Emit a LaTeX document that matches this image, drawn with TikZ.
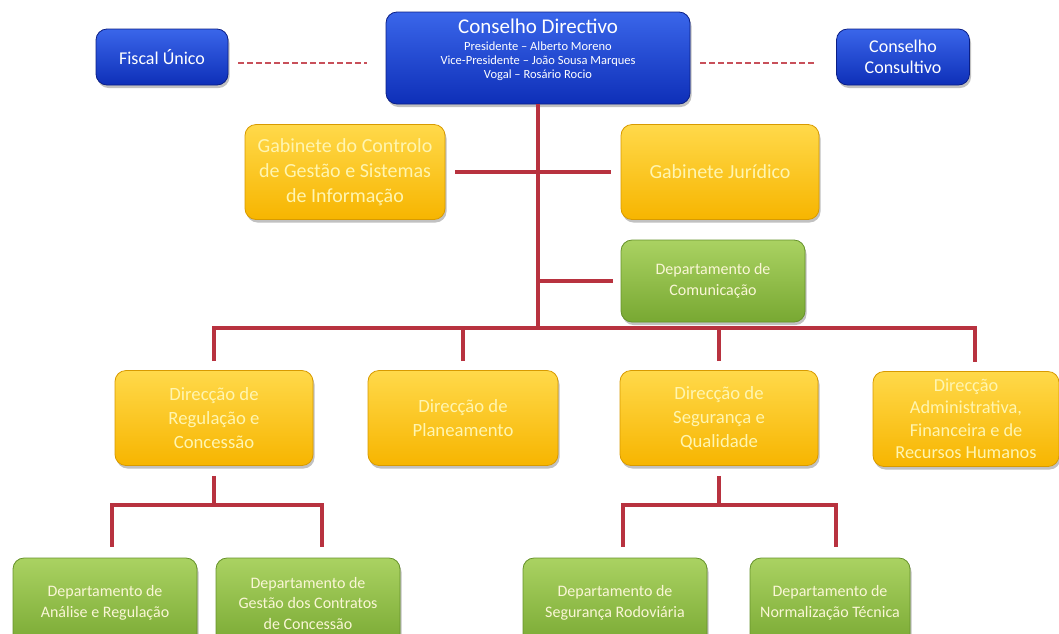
\documentclass[tikz,border=0pt]{standalone}
\usepackage{fontspec}
\setmainfont{Carlito}
\usetikzlibrary{shadows,calc}

\definecolor{bluetop}{HTML}{3A66EA}
\definecolor{bluebot}{HTML}{0E2FB8}
\definecolor{blueedge}{HTML}{0A1E86}
\definecolor{yeltop}{HTML}{FFD94A}
\definecolor{yelbot}{HTML}{F7B500}
\definecolor{yeledge}{HTML}{D89A00}
\definecolor{yeltext}{HTML}{FFF5B0}
\definecolor{grntop}{HTML}{AAD262}
\definecolor{grnbot}{HTML}{78A832}
\definecolor{grnedge}{HTML}{66922A}
\definecolor{grntext}{HTML}{FAF6D6}
\definecolor{linkred}{HTML}{B8323F}
\definecolor{dashred}{HTML}{C8505A}

\tikzset{
  unitbox/.style={rounded corners=11pt, inner sep=2pt, align=center,
    line width=0.8pt,
    drop shadow={shadow xshift=1.5pt, shadow yshift=-3pt, opacity=0.35, fill=black!70}},
  bluebox/.style={unitbox, draw=blueedge, top color=bluetop, bottom color=bluebot, text=white},
  yelbox/.style={unitbox, draw=yeledge, top color=yeltop, bottom color=yelbot, text=yeltext,
    font=\fontsize{18.7}{24}\selectfont},
  grnbox/.style={unitbox, draw=grnedge, top color=grntop, bottom color=grnbot, text=grntext,
    font=\fontsize{16}{20.5}\selectfont},
  conn/.style={draw=linkred, line width=4pt},
  dashlink/.style={draw=dashred, line width=2pt, dash pattern=on 6pt off 3pt},
}

\begin{document}
\begin{tikzpicture}[x=1pt, y=-1pt]
\useasboundingbox (0,0) rectangle (1059,633);
\clip (0,0) rectangle (1059,633);

% board and its two advisory bodies; the empty last line lifts the text block
\node[bluebox, minimum width=304pt, minimum height=92pt, font=\fontsize{12.5}{14}\selectfont] (cd) at (538,58)
  {{\fontsize{21}{22}\selectfont Conselho Directivo}\\[2.5pt]
   Presidente -- Alberto Moreno\\
   Vice-Presidente -- João Sousa Marques\\
   Vogal -- Rosário Rocio\\[5pt]{}};
\node[bluebox, minimum width=132pt, minimum height=56pt, font=\fontsize{18}{21}\selectfont] (fu) at (162,57) {Fiscal Único};
\node[bluebox, minimum width=133pt, minimum height=56pt, font=\fontsize{18}{21}\selectfont] (cc) at (903,57) {Conselho\\Consultivo};

% offices attached to the board
\node[yelbox, minimum width=200pt, minimum height=95pt, font=\fontsize{20}{25}\selectfont] (gc) at (345,172)
  {Gabinete do Controlo\\de Gestão e Sistemas\\de Informação};
\node[yelbox, minimum width=198pt, minimum height=95pt, font=\fontsize{20}{25}\selectfont] (gj) at (720,172) {Gabinete Jurídico};
\node[grnbox, minimum width=184pt, minimum height=82pt] (dc) at (713,281) {Departamento de\\Comunicação};

% directorates
\node[yelbox, minimum width=198pt, minimum height=95pt] (r1) at (214,418) {Direcção de\\Regulação e\\Concessão};
\node[yelbox, minimum width=190pt, minimum height=95pt] (r2) at (463,418) {Direcção de\\Planeamento};
\node[yelbox, minimum width=198pt, minimum height=95pt] (r3) at (719,418) {Direcção de\\Segurança e\\Qualidade};
\node[yelbox, minimum width=186pt, minimum height=95pt, font=\fontsize{18.3}{22.5}\selectfont] (r4) at (966,419)
  {Direcção\\Administrativa,\\Financeira e de\\Recursos Humanos};

% departments
\node[grnbox, minimum width=184pt, minimum height=90pt] (b1) at (105,603) {Departamento de\\Análise e Regulação};
\node[grnbox, minimum width=184pt, minimum height=90pt] (b2) at (308,603) {Departamento de\\Gestão dos Contratos\\de Concessão};
\node[grnbox, minimum width=184pt, minimum height=90pt] (b3) at (615,603) {Departamento de\\Segurança Rodoviária};
\node[grnbox, minimum width=160pt, minimum height=90pt] (b4) at (830,603) {Departamento de\\Normalização Técnica};

% junction points of the tree
\coordinate (bus) at (538,328);
\coordinate (s1) at (214,505);
\coordinate (s2) at (719,505);

% dashed advisory links
\draw[dashlink] ([xshift=10pt,yshift=-6pt]fu.east) -- ([xshift=-19pt,yshift=-6pt]fu.east -| cd.west);
\draw[dashlink] ([xshift=10pt,yshift=-6pt]cc.west -| cd.east) -- ([xshift=-19pt,yshift=-6pt]cc.west);

% hierarchy
\draw[conn] (cd.south) -- (bus);
\draw[conn] ([xshift=10pt]gc.east) -- ([xshift=-10pt]gj.west);
\draw[conn] (cd.south |- dc.west) -- ([xshift=-8pt]dc.west);
\draw[conn] ([yshift=9pt]r1.north) |- (bus) -| ([xshift=9pt,yshift=9pt]r4.north);
\draw[conn] ([yshift=9pt]r2.north) -- (r2.north |- bus);
\draw[conn] ([yshift=9pt]r3.north) -- (r3.north |- bus);

\draw[conn] ([yshift=-10pt]r1.south) -- (s1);
\draw[conn] ([xshift=7pt,yshift=11pt]b1.north) |- (s1) -| ([xshift=14pt,yshift=11pt]b2.north);
\draw[conn] ([yshift=-10pt]r3.south) -- (s2);
\draw[conn] ([xshift=8pt,yshift=11pt]b3.north) |- (s2) -| ([xshift=6pt,yshift=11pt]b4.north);
\end{tikzpicture}
\end{document}
